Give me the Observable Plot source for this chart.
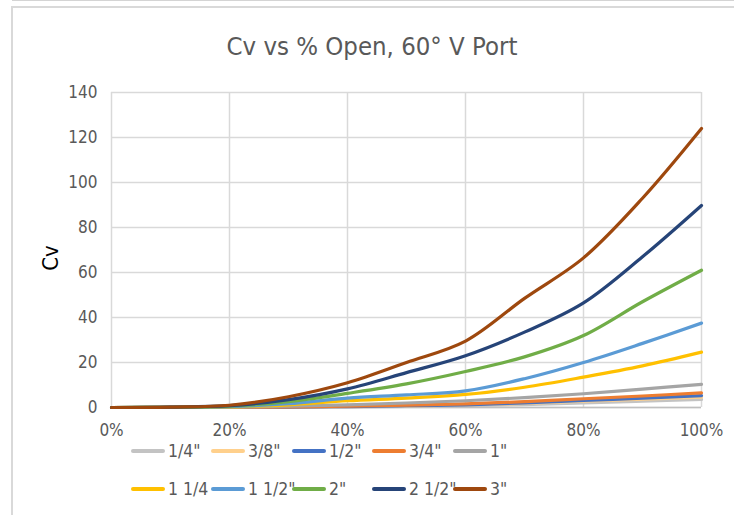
<!DOCTYPE html>
<html>
<head>
<meta charset="utf-8">
<script src="https://cdn.jsdelivr.net/npm/d3@7"></script>
<script src="https://cdn.jsdelivr.net/npm/@observablehq/plot@0.6"></script>
<style>
  html, body { margin: 0; padding: 0; background: #fff; }
  #wrap { position: relative; width: 734px; height: 515px; overflow: hidden; font-family: "Liberation Sans Narrow", "DejaVu Sans Condensed", "Liberation Sans", sans-serif; }
  #topline { position: absolute; left: 12px; top: 0; width: 722px; height: 1px; background: #d4d4d4; }
  #frame { position: absolute; left: 11px; top: 6px; width: 730px; height: 520px; border-left: 2px solid #d9d9d9; border-top: 2px solid #d9d9d9; }
  #title { position: absolute; left: 0; width: 744px; top: 31px; text-align: center; font-size: 25.5px; color: #595959; }
  #ylab { position: absolute; left: 50px; top: 258px; transform: translate(-50%, -50%) rotate(-90deg); font-size: 22px; color: #000; }
  #chart { position: absolute; left: 0; top: 0; }
  .leg { position: absolute; display: flex; align-items: center; font-size: 17.5px; color: #595959; white-space: nowrap; }
  .sw { width: 34px; height: 4px; border-radius: 2px; margin-right: 3px; }
</style>
</head>
<body>
<div id="wrap">
  <div id="topline"></div>
  <div id="frame"></div>
  <div id="title">Cv vs % Open, 60° V Port</div>
  <div id="chart"></div>
  <div id="ylab">Cv</div>
  <div id="legend"></div>
</div>
<script>
const openPct = [0, 0.1, 0.2, 0.3, 0.4, 0.5, 0.6, 0.7, 0.8, 0.9, 1.0];
const seriesNames = ['1/4"', '3/8"', '1/2"', '3/4"', '1"', '1 1/4', '1 1/2"', '2"', '2 1/2"', '3"'];
const seriesColors = ["#c3c3c3", "#ffd08c", "#4472c4", "#ed7d31", "#a5a5a5", "#ffc000", "#5b9bd5", "#70ad47", "#264478", "#9e480e"];
const cv_1_4  = [0, 0.01, 0.04, 0.1, 0.25, 0.5, 0.8, 1.3, 2.0, 2.8, 3.6];
const cv_3_8  = [0, 0.02, 0.06, 0.15, 0.35, 0.7, 1.1, 1.8, 2.8, 3.7, 4.6];
const cv_1_2  = [0, 0.02, 0.08, 0.2, 0.4, 0.8, 1.2, 2.0, 3.1, 4.2, 5.3];
const cv_3_4  = [0, 0.03, 0.1, 0.3, 0.6, 1.0, 1.6, 2.6, 3.9, 5.1, 6.5];
const cv_1    = [0, 0.05, 0.2, 0.6, 1.2, 2.0, 3.0, 4.4, 6.1, 8.2, 10.3];
const cv_1_14 = [0, 0.05, 0.3, 1.2, 3.0, 4.2, 5.8, 9.0, 13.5, 18.5, 24.6];
const cv_1_12 = [0, 0.1, 0.4, 1.7, 4.2, 5.6, 7.4, 12.8, 20, 28.5, 37.5];
const cv_2    = [0, 0.1, 0.6, 2.6, 6.3, 10.5, 16, 22.5, 32, 47, 61];
const cv_2_12 = [0, 0.15, 0.8, 3.5, 8.3, 15.5, 23, 33.5, 46.5, 67, 89.8];
const cv_3    = [0, 0.2, 1.0, 4.8, 11, 20, 29.5, 48.5, 66.5, 93, 124];
const xTicks = [0, 0.2, 0.4, 0.6, 0.8, 1.0];
const yTicks = [0, 20, 40, 60, 80, 100, 120, 140];

const allSeries = [cv_1_4, cv_3_8, cv_1_2, cv_3_4, cv_1, cv_1_14, cv_1_12, cv_2, cv_2_12, cv_3];
const rows = [];
allSeries.forEach((vals, i) => vals.forEach((v, j) => rows.push({x: openPct[j], y: v, s: seriesNames[i]})));

const plot = Plot.plot({
  width: 734,
  height: 440,
  marginLeft: 111,
  marginRight: 33,
  marginTop: 92,
  marginBottom: 33,
  style: { background: "transparent", fontFamily: '"Liberation Sans Narrow", "DejaVu Sans Condensed", sans-serif', fontSize: "17px", color: "#595959", overflow: "visible" },
  x: { domain: [0, 1], label: null },
  y: { domain: [0, 140], label: null },
  color: { domain: seriesNames, range: seriesColors },
  marks: [
    Plot.gridX(xTicks, { stroke: "#d9d9d9", strokeOpacity: 1, strokeWidth: 1.5 }),
    Plot.gridY(yTicks, { stroke: "#d9d9d9", strokeOpacity: 1, strokeWidth: 1.5 }),
    Plot.ruleY([0], { stroke: "#bfbfbf", strokeWidth: 1.5 }),
    Plot.axisX({ ticks: xTicks, tickFormat: d => Math.round(d * 100) + "%", tickSize: 0, tickPadding: 16, fill: "#595959", fontSize: 17, label: null }),
    Plot.axisY({ ticks: yTicks, tickSize: 0, tickPadding: 14, fill: "#595959", fontSize: 17, label: null }),
    Plot.line(rows, { x: "x", y: "y", z: "s", stroke: "s", strokeWidth: 3.2, curve: "catmull-rom" })
  ]
});
document.getElementById("chart").appendChild(plot);

const legend = document.getElementById("legend");
const colX = [131, 211, 292, 372, 453];
const rowY = [451, 489];
seriesNames.forEach((name, i) => {
  const d = document.createElement("div");
  d.className = "leg";
  d.style.left = colX[i % 5] + "px";
  d.style.top = (rowY[Math.floor(i / 5)] - 11) + "px";
  d.style.height = "22px";
  const sw = document.createElement("div");
  sw.className = "sw";
  sw.style.background = seriesColors[i];
  const t = document.createElement("span");
  t.textContent = name;
  d.appendChild(sw);
  d.appendChild(t);
  legend.appendChild(d);
});
</script>
</body>
</html>
